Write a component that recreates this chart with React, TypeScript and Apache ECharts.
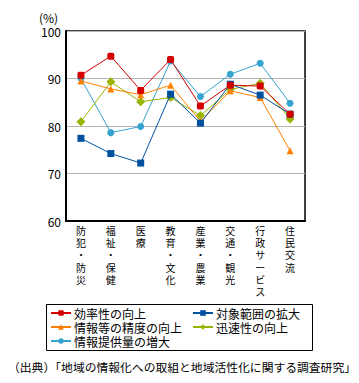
import React, { useEffect, useRef } from "react";
import * as echarts from "echarts";

const categories = ["防犯・防災", "福祉・保健", "医療", "教育・文化", "産業・農業", "交通・観光", "行政サービス", "住民交流"];
const efficiency = [90.7, 94.7, 87.5, 94.0, 84.2, 88.6, 88.4, 82.5];
const coverage = [77.4, 74.2, 72.2, 86.7, 80.6, 88.8, 86.5, 82.5];
const accuracy = [89.5, 87.8, 86.6, 88.6, 81.0, 87.4, 86.0, 74.8];
const speed = [80.9, 89.3, 85.1, 86.0, 82.2, 87.7, 89.0, 81.5];
const supply = [90.0, 78.6, 79.9, 93.7, 86.2, 90.9, 93.2, 84.8];
const yTicks = [60, 70, 80, 90, 100];

const FONT = "'Noto Sans CJK JP', 'Noto Sans', sans-serif";

export default function App() {
  const ref = useRef<HTMLDivElement>(null);
  useEffect(() => {
    if (!ref.current) return;
    const chart = echarts.init(ref.current, undefined, { renderer: "svg" });
    const mk = (name: string, data: number[], color: string, symbol: string, size: number, z: number) => ({
      name,
      type: "line",
      data,
      symbol,
      symbolSize: size,
      z,
      itemStyle: { color },
      lineStyle: { color, width: 1 },
    });
    const legendText = { fontSize: 12, lineHeight: 13, color: "#000", padding: [0, 0, 0, -2] };
    chart.setOption({
      animation: false,
      textStyle: { fontFamily: FONT },
      grid: {
        left: 66,
        right: 54,
        top: 31,
        bottom: 162,
        show: true,
        borderColor: "#000",
        borderWidth: 1.5,
      },
      xAxis: {
        type: "category",
        data: categories,
        boundaryGap: true,
        axisLine: { lineStyle: { color: "#000", width: 2 } },
        axisTick: { inside: true, length: 4, lineStyle: { color: "#000", width: 1 } },
        axisLabel: {
          color: "#000",
          fontSize: 10,
          lineHeight: 12.3,
          margin: 3,
          interval: 0,
          verticalAlign: "top",
          formatter: (v: string) => v.split("").join("\n"),
        },
      },
      yAxis: {
        type: "value",
        min: yTicks[0],
        max: yTicks[yTicks.length - 1],
        interval: 10,
        axisLine: { show: true, lineStyle: { color: "#000", width: 2 } },
        axisTick: { show: false },
        axisLabel: { color: "#000", fontSize: 12, margin: 5 },
        splitLine: { lineStyle: { color: "#b4b4b4", width: 1 } },
      },
      legend: [
        {
          orient: "vertical",
          left: 50,
          top: 306.5,
          itemWidth: 20,
          itemHeight: 7,
          itemGap: 1,
          padding: 0,
          textStyle: legendText,
          data: ["効率性の向上", "情報等の精度の向上", "情報提供量の増大"],
        },
        {
          orient: "vertical",
          left: 192,
          top: 306.5,
          itemWidth: 20,
          itemHeight: 7,
          itemGap: 1,
          padding: 0,
          textStyle: legendText,
          data: ["対象範囲の拡大", "迅速性の向上"],
        },
      ],
      graphic: [
        {
          type: "rect",
          shape: { x: 46.5, y: 304.5, width: 266, height: 46 },
          style: { fill: "none", stroke: "#000", lineWidth: 1 },
        },
        {
          type: "text",
          x: 39,
          y: 11,
          style: { text: "(%)", font: `12px ${FONT}`, fill: "#000" },
        },
        {
          type: "text",
          x: 8,
          y: 361,
          style: { text: "（出典）「地域の情報化への取組と地域活性化に関する調査研究」", font: `11.8px ${FONT}`, fill: "#000" },
        },
      ],
      series: [
        mk("情報提供量の増大", supply, "#35a2cf", "circle", 7, 2),
        mk("迅速性の向上", speed, "#99b300", "diamond", 9, 3),
        mk("情報等の精度の向上", accuracy, "#ff8000", "triangle", 7, 4),
        mk("対象範囲の拡大", coverage, "#0050a0", "rect", 7, 5),
        mk("効率性の向上", efficiency, "#d40000", "roundRect", 7, 6),
      ],
    });
    return () => chart.dispose();
  }, []);
  return <div ref={ref} style={{ width: 359, height: 383, margin: -8 }} />;
}
